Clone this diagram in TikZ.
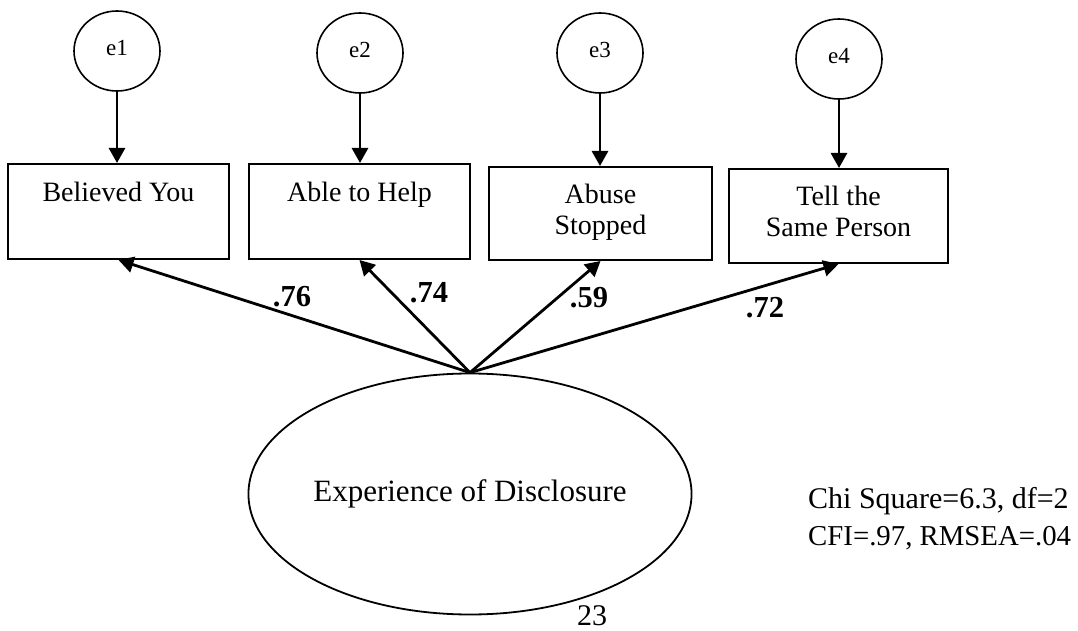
\documentclass[tikz,border=0pt]{standalone}
\usepackage{fontspec}
\setmainfont{Liberation Serif}
\usetikzlibrary{shapes.geometric,arrows.meta}
\begin{document}
\begin{tikzpicture}[x=1pt,y=-1pt,
  errc/.style={draw,ellipse,line width=1.6pt,minimum width=86pt,minimum height=80pt,inner sep=0pt,text height=16pt,text depth=6pt,font=\fontsize{23}{27}\selectfont},
  obsbox/.style={draw,rectangle,line width=2pt,minimum width=221pt,minimum height=95pt,inner sep=0pt,align=center,font=\fontsize{28}{31}\selectfont},
  latent/.style={draw,ellipse,line width=1.8pt,minimum width=386pt,minimum height=241pt,inner sep=0pt,font=\fontsize{31}{36}\selectfont},
  arr/.style={line width=2.8pt,-{Triangle[length=15pt,width=16pt]}},
  coef/.style={inner sep=0pt,font=\fontsize{30.5}{34}\selectfont\bfseries},
  stat/.style={inner sep=0pt,anchor=base west,font=\fontsize{30}{34}\selectfont}]
\useasboundingbox (0,0) rectangle (1078,631);
% error terms
\node[errc] (e1) at (117,51) {e1};
\node[errc] (e2) at (360,53) {e2};
\node[errc] (e3) at (600,53) {e3};
\node[errc] (e4) at (839,59) {e4};
% observed variables
\node[obsbox] (b1) at (118.5,211.5) {Believed You\\\strut};
\node[obsbox] (b2) at (359.5,211.5) {Able to Help\\\strut};
\node[obsbox,minimum width=223pt,minimum height=93pt] (b3) at (600.5,213.5) {Abuse\\Stopped\strut};
\node[obsbox,minimum width=219pt,minimum height=94pt] (b4) at (838.5,216) {Tell the\\Same Person\strut};
% latent variable
\node[latent] (F) at (470,494) {Experience of Disclosure};
% error arrows
\draw[arr] (e1.south) -- (e1.south |- b1.north);
\draw[arr] (e2.south) -- (e2.south |- b2.north);
\draw[arr] (e3.south) -- (e3.south |- b3.north);
\draw[arr] (e4.south) -- (e4.south |- b4.north);
% loadings
\draw[arr] (F.north) -- (b1.south);
\draw[arr] (F.north) -- (b2.south);
\draw[arr] (F.north) -- (b3.south);
\draw[arr] (F.north) -- (b4.south);
\node[coef] (l1) at (292,297) {.76};
\node[coef] (l2) at (429,293) {.74};
\node[coef] (l3) at (589,298) {.59};
\node[coef] (l4) at (765,308) {.72};
% fit statistics
\node[stat] (s1) at (808,508) {Chi Square=6.3, df=2};
\node[stat,font=\fontsize{28.8}{34}\selectfont] (s2) at (808,545) {CFI=.97, RMSEA=.04};
\node[stat,anchor=base,font=\fontsize{30}{34}\selectfont] (pg) at (592,625) {23};
\end{tikzpicture}
\end{document}
